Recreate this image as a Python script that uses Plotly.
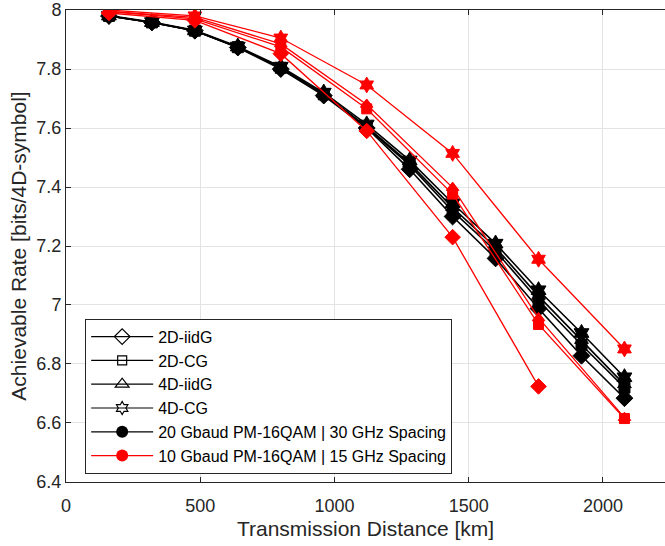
import plotly.graph_objects as go

# ---- data ----
x_black = [160, 320, 480, 640, 800, 960, 1120, 1280, 1440, 1600, 1760, 1920, 2080]
x_red = [160, 480, 800, 1120, 1440, 1760, 2080]

black_2d_iidg = [7.98, 7.958, 7.93, 7.873, 7.80, 7.71, 7.60, 7.46, 7.30, 7.158, 6.988, 6.828, 6.684]
black_2d_cg   = [7.98, 7.958, 7.93, 7.874, 7.804, 7.714, 7.602, 7.474, 7.318, 7.183, 7.015, 6.865, 6.72]
black_4d_iidg = [7.98, 7.958, 7.93, 7.874, 7.805, 7.715, 7.605, 7.48, 7.33, 7.195, 7.03, 6.88, 6.73]
black_4d_cg   = [7.981, 7.959, 7.931, 7.876, 7.808, 7.72, 7.612, 7.49, 7.345, 7.208, 7.05, 6.905, 6.755]

red_2d_iidg = [7.99, 7.965, 7.852, 7.59, 7.23, 6.724]
red_2d_cg   = [7.995, 7.97, 7.875, 7.665, 7.376, 6.934, 6.615]
red_4d_iidg = [7.995, 7.975, 7.885, 7.68, 7.398, 6.956, 6.618]
red_4d_cg   = [8.0, 7.98, 7.905, 7.746, 7.514, 7.155, 6.851]

legend_names = ["2D-iidG", "2D-CG", "4D-iidG", "4D-CG",
                "20 Gbaud PM-16QAM | 30 GHz Spacing",
                "10 Gbaud PM-16QAM | 15 GHz Spacing"]
x_ticks = [0, 500, 1000, 1500, 2000]
y_ticks = [6.4, 6.6, 6.8, 7.0, 7.2, 7.4, 7.6, 7.8, 8.0]
y_ticktext = ["6.4", "6.6", "6.8", "7", "7.2", "7.4", "7.6", "7.8", "8"]

symbols = ["diamond", "square", "triangle-up", "hexagram"]
sizes = [13, 11, 12, 13]
black_series = [black_2d_iidg, black_2d_cg, black_4d_iidg, black_4d_cg]
red_series = [red_2d_iidg, red_2d_cg, red_4d_iidg, red_4d_cg]

FONT = "Liberation Sans, Arial, sans-serif"
fig = go.Figure()

for sym, sz, yb in zip(symbols, sizes, black_series):
    fig.add_trace(go.Scatter(
        x=x_black, y=yb, mode="lines+markers", showlegend=False,
        line=dict(color="black", width=1.6),
        marker=dict(symbol=sym, size=sz, color="black", line=dict(color="black", width=1))))

for sym, sz, yr in zip(symbols, sizes, red_series):
    fig.add_trace(go.Scatter(
        x=x_red[:len(yr)], y=yr, mode="lines+markers", showlegend=False,
        line=dict(color="red", width=1.3),
        marker=dict(symbol=sym, size=sz - 1, color="red", line=dict(color="red", width=1))))

# legend entries
leg_sizes = [12, 9, 12, 10]
for name, sym, sz in zip(legend_names[:4], symbols, leg_sizes):
    fig.add_trace(go.Scatter(
        x=[None], y=[None], mode="lines+markers", name=name,
        line=dict(color="black", width=1.2),
        marker=dict(symbol=sym + "-open", size=sz, color="black", line=dict(width=1.2))))
fig.add_trace(go.Scatter(
    x=[None], y=[None], mode="lines+markers", name=legend_names[4],
    line=dict(color="black", width=1.2),
    marker=dict(symbol="circle", size=12, color="black")))
fig.add_trace(go.Scatter(
    x=[None], y=[None], mode="lines+markers", name=legend_names[5],
    line=dict(color="red", width=1.2),
    marker=dict(symbol="circle", size=12, color="red")))

axis_font = dict(family=FONT, size=18, color="#262626")

fig.update_layout(
    width=665, height=546,
    margin=dict(l=66, r=0, t=10, b=64, autoexpand=False),
    paper_bgcolor="white", plot_bgcolor="white",
    font=dict(family=FONT, size=16, color="#262626"),
    legend=dict(
        x=0.032, y=0.346, xanchor="left", yanchor="top",
        bgcolor="white", bordercolor="#262626", borderwidth=1,
        font=dict(family=FONT, size=16, color="black"),
        tracegroupgap=0, itemwidth=62),
    xaxis=dict(
        range=[0, 2231], tickvals=x_ticks, ticktext=[str(v) for v in x_ticks],
        showgrid=True, gridcolor="#e3e3e3", gridwidth=1,
        showline=True, linecolor="#262626", linewidth=1, mirror="ticks",
        ticks="inside", ticklen=5, tickcolor="#262626",
        zeroline=False, tickfont=axis_font, automargin=False,
        ticklabeloverflow="allow", ticklabelstandoff=7,
        title=dict(text="Transmission Distance [km]",
                   font=dict(family=FONT, size=21, color="#262626"),
                   standoff=6)),
    yaxis=dict(
        range=[6.3999, 8.0001], tickvals=y_ticks, ticktext=y_ticktext,
        showgrid=True, gridcolor="#e3e3e3", gridwidth=1,
        showline=True, linecolor="#262626", linewidth=1, mirror=False,
        ticks="inside", ticklen=5, tickcolor="#262626",
        zeroline=False, tickfont=axis_font, automargin=False,
        ticklabeloverflow="allow",
        title=dict(text="Achievable Rate [bits/4D-symbol]",
                   font=dict(family=FONT, size=21, color="#262626"),
                   standoff=4)),
)

fig.write_html(
    "out.html",
    config={"displayModeBar": False},
    post_script="document.body.style.margin='0';document.body.style.overflow='hidden';",
)
